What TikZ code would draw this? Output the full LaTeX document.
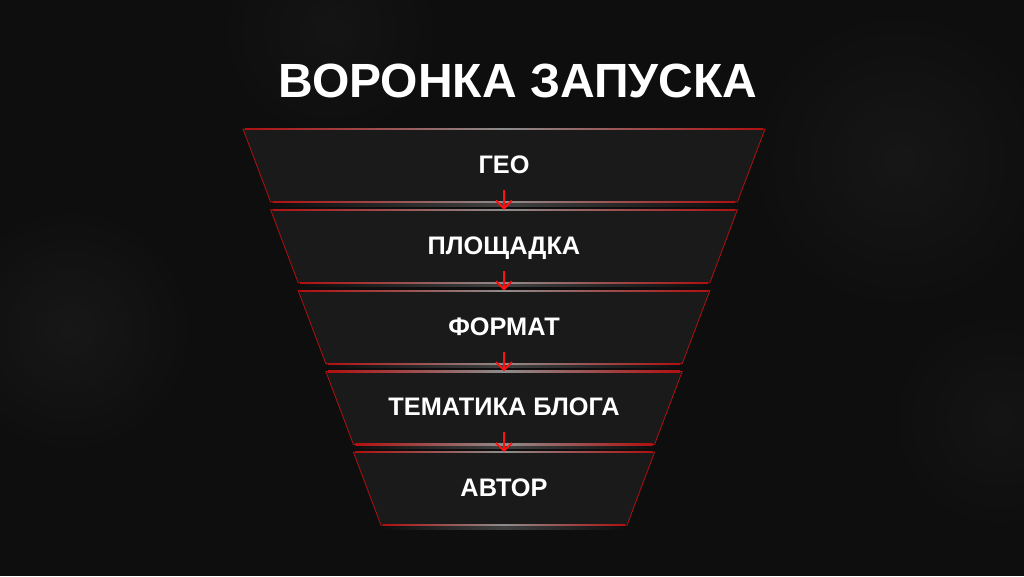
\documentclass[tikz,border=0pt]{standalone}
\usepackage{fontspec}
\setmainfont{Liberation Sans}
\usetikzlibrary{arrows.meta}
\definecolor{bgc}{HTML}{0E0E0E}
\definecolor{boxc}{HTML}{1A1A1A}
\definecolor{edgered}{HTML}{B01010}
\definecolor{arrred}{HTML}{FF1010}
\tikzset{
  funnelbox/.style={fill=boxc, draw=edgered, line width=0.6pt},
  lbl/.style={text=white, font=\bfseries\fontsize{19}{22}\selectfont, anchor=base, inner sep=0pt},
  ttl/.style={text=white, font=\bfseries\fontsize{36}{40}\selectfont, anchor=base, inner sep=0pt},
  arr/.style={draw=arrred, line width=1.4pt, -{Straight Barb[length=6pt,width=12pt]}},
}
\begin{document}
\begin{tikzpicture}[x=0.75pt,y=-0.75pt]
\useasboundingbox (0,0) rectangle (1024,576);
\fill[bgc] (0,0) rectangle (1024,576);
% subtle texture glows
\shade[inner color=black!85!white, outer color=bgc, opacity=0.4] (70,330) circle (130);
\shade[inner color=black!86!white, outer color=bgc, opacity=0.4] (900,160) circle (160);
\shade[inner color=black!88!white, outer color=bgc, opacity=0.4] (330,30) circle (120);
\shade[inner color=black!88!white, outer color=bgc, opacity=0.4] (1000,420) circle (120);

\node[ttl] (title) at (518,97) {ВОРОНКА ЗАПУСКА};

\foreach \i/\txt in {0/ГЕО,1/ПЛОЩАДКА,2/ФОРМАТ,3/ТЕМАТИКА БЛОГА,4/АВТОР}{
  \pgfmathsetmacro{\yT}{129+80.8*\i}
  \pgfmathsetmacro{\yB}{\yT+73}
  \pgfmathsetmacro{\wT}{261-27.6*\i}
  \pgfmathsetmacro{\wB}{\wT-27.6}
  \shade[left color=bgc, right color=bgc, middle color=black!55!white, opacity=0.5]
     (504-\wB,\yB+1) rectangle (504+\wB,\yB+4);
  \path[funnelbox] (504-\wT,\yT) -- (504+\wT,\yT) -- (504+\wB,\yB) -- (504-\wB,\yB) -- cycle;
  \shade[left color=edgered, right color=edgered, middle color=black!45!white]
     (504-\wT+2,\yT-0.5) rectangle (504+\wT-2,\yT+0.7);
  \shade[left color=edgered, right color=edgered, middle color=black!45!white]
     (504-\wB+2,\yB-0.5) rectangle (504+\wB-2,\yB+0.7);
  \coordinate (t\i) at (504,\yT);
  \coordinate (b\i) at (504,\yB-12);
  \node[lbl] (n\i) at (504,\yT+44.5) {\txt};
}
\foreach \i [evaluate=\i as \j using int(\i+1)] in {0,1,2,3}{
  \draw[arr] (b\i) -- (t\j);
}
\end{tikzpicture}
\end{document}
